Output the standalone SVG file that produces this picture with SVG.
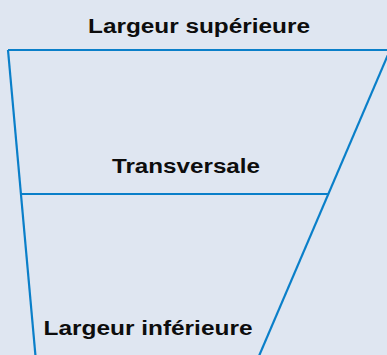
<svg xmlns="http://www.w3.org/2000/svg" width="387" height="355" viewBox="0 0 387 355">
<style>
.bg{fill:#dfe6f1}
.ln{stroke:#0a7fc9;stroke-width:2.2;fill:none;stroke-linecap:butt}
.t{font-family:"Liberation Sans",Arial,sans-serif;font-weight:bold;font-size:20px;fill:#0d0d0d;text-anchor:middle}
</style>
<rect class="bg" x="0" y="0" width="387" height="355"/>
<g id="connectors">
<line class="ln" x1="8" y1="50" x2="389" y2="50"/>
<line class="ln" x1="8" y1="50" x2="35.5" y2="356"/>
<line class="ln" x1="390" y1="50" x2="259" y2="356"/>
<line class="ln" x1="21" y1="194" x2="328" y2="194"/>
</g>
<g id="top"><text class="t" x="199" y="33" textLength="222" lengthAdjust="spacingAndGlyphs">Largeur supérieure</text></g>
<g id="mid"><text class="t" x="186" y="173" textLength="148" lengthAdjust="spacingAndGlyphs">Transversale</text></g>
<g id="bottom"><text class="t" x="148" y="335" textLength="209" lengthAdjust="spacingAndGlyphs">Largeur inférieure</text></g>
</svg>
